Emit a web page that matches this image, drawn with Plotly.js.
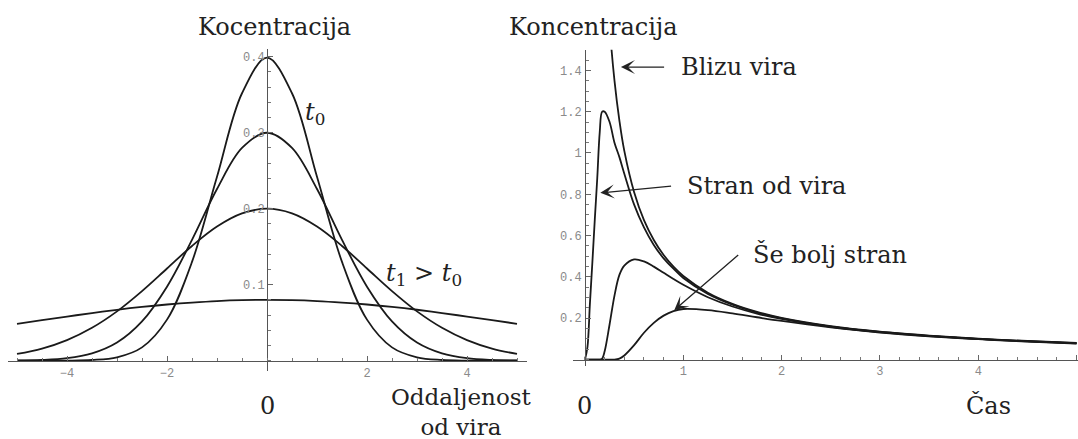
<!DOCTYPE html>
<html>
<head>
<meta charset="utf-8">
<script src="https://cdn.plot.ly/plotly-3.0.1.min.js"></script>
<style>html,body{margin:0;padding:0;background:#fff;}#chart{width:1078px;height:439px;}</style>
</head>
<body>
<div id="chart"></div>
<script>
// ---- Left panel: concentration vs distance from source ----
const distance = [-5,-4.5,-4,-3.5,-3,-2.5,-2,-1.5,-1,-0.5,0,0.5,1,1.5,2,2.5,3,3.5,4,4.5,5];
const concT0   = [0,0,0.0001,0.0009,0.0044,0.0175,0.054,0.13,0.242,0.352,0.399,0.352,0.242,0.13,0.054,0.0175,0.0044,0.0009,0.0001,0,0];
const concT03  = [0.0003,0.001,0.0033,0.0096,0.0239,0.0517,0.0974,0.159,0.226,0.28,0.3,0.28,0.226,0.159,0.0974,0.0517,0.0239,0.0096,0.0033,0.001,0.0003];
const concT02  = [0.0088,0.0159,0.0271,0.0433,0.0649,0.0916,0.1213,0.151,0.1765,0.1938,0.2,0.1938,0.1765,0.151,0.1213,0.0916,0.0649,0.0433,0.0271,0.0159,0.0088];
const concT1   = [0.0485,0.0534,0.0581,0.0626,0.067,0.0708,0.0739,0.0764,0.0784,0.0796,0.08,0.0796,0.0784,0.0764,0.0739,0.0708,0.067,0.0626,0.0581,0.0534,0.0485];
const leftXTickVals = [-4,-2,2,4];
const leftXTickText = ['\u22124','\u22122','2','4'];
const leftYTickVals = [0.1,0.2,0.3,0.4];
const leftYTickText = ['0.1','0.2','0.3','0.4'];

// ---- Right panel: concentration vs time ----
const time      = [0,0.025,0.05,0.075,0.1,0.125,0.15,0.175,0.2,0.25,0.3,0.35,0.4,0.5,0.6,0.7,0.8,0.9,1.0,1.25,1.5,1.75,2,2.5,3,3.5,4,4.5,5];
const nearSrc   = [null,null,null,null,null,null,null,null,2.02,1.62,1.35,1.157,1.01,0.81,0.675,0.579,0.506,0.45,0.405,0.324,0.27,0.231,0.202,0.162,0.135,0.116,0.101,0.09,0.081];
const awaySrc   = [0,0.06,0.27,0.47,0.68,0.88,1.10,1.20,1.20,1.15,1.05,0.98,0.90,0.75,0.64,0.555,0.49,0.44,0.395,0.318,0.266,0.228,0.2,0.16,0.134,0.115,0.1,0.089,0.08];
const fartherA  = [0,0,0,0,0,0,0,0.005,0.04,0.17,0.31,0.41,0.455,0.485,0.475,0.45,0.42,0.39,0.362,0.302,0.257,0.223,0.197,0.159,0.133,0.114,0.1,0.088,0.079];
const fartherB  = [0,0,0,0,0,0,0,0,0,0,0,0.005,0.02,0.07,0.13,0.178,0.213,0.235,0.245,0.24,0.224,0.205,0.187,0.156,0.131,0.113,0.099,0.087,0.078];
const rightXTickVals = [1,2,3,4,5];
const rightXTickText = ['1','2','3','4','5'];
const rightYTickVals = [0.2,0.4,0.6,0.8,1.0,1.2,1.4];
const rightYTickText = ['0.2','0.4','0.6','0.8','1','1.2','1.4'];

const lineStyle = {color:'#1a1a1a', width:1.8, shape:'spline', smoothing:1};
function tr(x, y, xa, ya){ return {x:x, y:y, xaxis:xa, yaxis:ya, mode:'lines', line:lineStyle, hoverinfo:'skip'}; }

const data = [
  tr(distance, concT0, 'x', 'y'),
  tr(distance, concT03, 'x', 'y'),
  tr(distance, concT02, 'x', 'y'),
  tr(distance, concT1, 'x', 'y'),
  tr(time, nearSrc, 'x2', 'y2'),
  tr(time, awaySrc, 'x2', 'y2'),
  tr(time, fartherA, 'x2', 'y2'),
  tr(time, fartherB, 'x2', 'y2')
];

const tickFont = {family:'Liberation Mono, DejaVu Sans Mono, monospace', size:12, color:'#8a8a8a'};
const axBase = {showgrid:false, zeroline:false, showline:true, linecolor:'#555', linewidth:1.4,
  ticks:'inside', ticklen:5, tickwidth:1, tickcolor:'#666', tickfont:tickFont, tickmode:'array', fixedrange:true};

const serif = 'DejaVu Serif, Liberation Serif, serif';
function txt(text, x, y, size){ return {text:text, x:x, y:y, xref:'paper', yref:'paper', showarrow:false,
  xanchor:'center', yanchor:'middle', borderpad:0, font:{family:serif, size:size||24, color:'#222'}}; }
function arrow(tx, ty, ax, ay){ return {text:'', x:tx, y:ty, ax:ax, ay:ay, xref:'x2', yref:'y2', axref:'x2', ayref:'y2',
  showarrow:true, arrowhead:3, arrowsize:1.8, arrowwidth:1.3, arrowcolor:'#222'}; }

const layout = {
  width:1078, height:439, margin:{l:0,r:0,t:0,b:0}, paper_bgcolor:'#fff', plot_bgcolor:'rgba(0,0,0,0)', showlegend:false,
  xaxis: Object.assign({}, axBase, {domain:[8/1078, 527/1078], range:[-5.18,5.2], anchor:'free', position:78.3/439,
    tickvals:leftXTickVals, ticktext:leftXTickText,
    minor:{tickmode:'linear', tick0:0, dtick:0.5, ticks:'inside', ticklen:3, tickcolor:'#777'}}),
  yaxis: Object.assign({}, axBase, {domain:[68/439,0.888], range:[-0.0136,0.41], anchor:'free', position:267/1078,
    tickvals:leftYTickVals, ticktext:leftYTickText, ticklabelstandoff:0,
    minor:{tickmode:'linear', tick0:0, dtick:0.02, ticks:'inside', ticklen:3, tickcolor:'#777'}}),
  xaxis2: Object.assign({}, axBase, {domain:[572.7/1078, 1], range:[-0.125,5.015], anchor:'free', position:79.4/439,
    tickvals:rightXTickVals, ticktext:rightXTickText,
    minor:{tickmode:'linear', tick0:0, dtick:0.2, ticks:'inside', ticklen:3, tickcolor:'#777'}}),
  yaxis2: Object.assign({}, axBase, {domain:[73.4/439,0.8868], range:[-0.029,1.5], anchor:'free', position:585/1078,
    tickvals:rightYTickVals, ticktext:rightYTickText, ticklabelstandoff:1,
    minor:{tickmode:'linear', tick0:0, dtick:0.05, ticks:'inside', ticklen:3, tickcolor:'#777'}}),
  annotations: [
    txt('Kocentracija', 0.2547, 0.9374),
    txt('Koncentracija', 0.551, 0.9374),
    txt('0', 0.2477, 0.0752),
    txt('Oddaljenost<br>od vira', 0.4282, 0.0615, 23),
    txt('0', 0.5425, 0.0752),
    txt('\u010Cas', 0.9174, 0.0752),
    txt('<i>t</i><sub>0</sub>', 0.2922, 0.7412),
    txt('<i>t</i><sub>1</sub> > <i>t</i><sub>0</sub>', 0.3937, 0.3736),
    txt('Blizu vira', 0.6853, 0.8474),
    txt('Stran od vira', 0.7115, 0.5763),
    txt('\u0160e bolj stran', 0.7698, 0.4205),
    arrow(0.366, 1.416, 0.82, 1.416),
    arrow(0.156, 0.807, 0.891, 0.84),
    arrow(0.908, 0.239, 1.574, 0.512)
  ]
};

Plotly.newPlot('chart', data, layout, {staticPlot:true, displayModeBar:false});
</script>
</body>
</html>
